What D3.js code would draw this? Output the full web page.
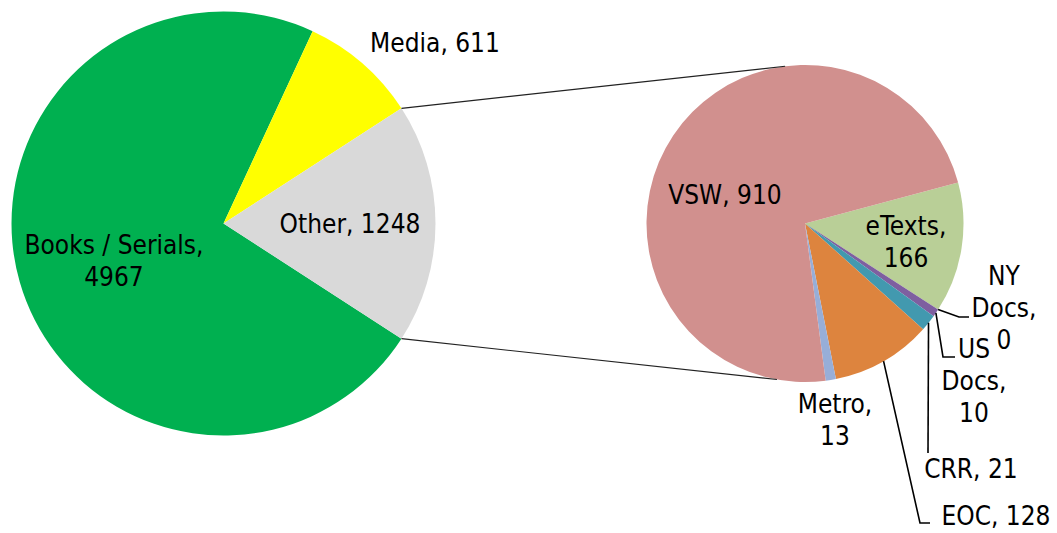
<!DOCTYPE html>
<html>
<head>
<meta charset="utf-8">
<script src="https://cdn.jsdelivr.net/npm/d3@7"></script>
<style>
body { margin: 0; background: #fff; }
text { font-family: "DejaVu Sans Condensed", "DejaVu Sans", sans-serif; font-size: 26px; fill: #000; }
</style>
</head>
<body>
<svg width="1057" height="533"></svg>
<script>
// main pie data
var mainCats = ["Books / Serials", "Media", "Other"];
var mainVals = [4967, 611, 1248];
var mainColors = ["#00B050", "#FFFF00", "#D9D9D9"];

// breakdown of "Other"
var subCats = ["eTexts", "NY Docs", "US Docs", "CRR", "EOC", "Metro", "VSW"];
var subVals = [166, 0, 10, 21, 128, 13, 910];
var subColors = ["#B9CF97", "#7E5FA0", "#7E5FA0", "#4299AF", "#DD843E", "#97AED8", "#D1908E"];

var svg = d3.select("svg");
var toRad = Math.PI / 180;

var c1 = {x: 223.5, y: 223.5, r: 212};
var c2 = {x: 805, y: 223.5, r: 158.5};

function pt(c, a, r) {
  return [c.x + r * Math.sin(a), c.y - r * Math.cos(a)];
}

// left pie: "Other" centred on the right-hand side
var total = d3.sum(mainVals);
var s1 = Math.PI / 2 + Math.PI * mainVals[2] / total;
var pie1 = d3.pie().sort(null).startAngle(s1).endAngle(s1 + 2 * Math.PI);
var arcs1 = pie1(mainVals);
var arc1 = d3.arc().innerRadius(0).outerRadius(c1.r);

svg.append("g")
  .attr("transform", "translate(" + c1.x + "," + c1.y + ")")
  .selectAll("path")
  .data(arcs1)
  .enter().append("path")
    .attr("d", arc1)
    .attr("fill", function(d, i) { return mainColors[i]; });

// right pie
var s2 = 75 * toRad;
var pie2 = d3.pie().sort(null).startAngle(s2).endAngle(s2 + 2 * Math.PI);
var arcs2 = pie2(subVals);
var arc2 = d3.arc().innerRadius(0).outerRadius(c2.r);

svg.append("g")
  .attr("transform", "translate(" + c2.x + "," + c2.y + ")")
  .selectAll("path")
  .data(arcs2)
  .enter().append("path")
    .attr("d", arc2)
    .attr("fill", function(d, i) { return subColors[i]; });

// connector lines between the pies
var other = arcs1[2];
var conn = [
  [pt(c1, other.startAngle, c1.r), pt(c2, -7.2 * toRad, c2.r)],
  [pt(c1, other.endAngle, c1.r), pt(c2, 190.2 * toRad, c2.r)]
];
svg.selectAll(".conn")
  .data(conn)
  .enter().append("line")
    .attr("class", "conn")
    .attr("x1", function(d) { return d[0][0]; })
    .attr("y1", function(d) { return d[0][1]; })
    .attr("x2", function(d) { return d[1][0]; })
    .attr("y2", function(d) { return d[1][1]; })
    .attr("stroke", "#222")
    .attr("stroke-width", 1.2);

// leader lines for the small slices (elbow points)
var leaders = [
  {i: 1, pts: [[959, 317], [969, 317]]},
  {i: 2, pts: [[943, 357], [955, 357]]},
  {i: 3, pts: [[928, 453]]},
  {i: 4, pts: [[920, 523], [930, 523]]}
];
svg.selectAll(".leader")
  .data(leaders)
  .enter().append("path")
    .attr("class", "leader")
    .attr("fill", "none")
    .attr("stroke", "#000")
    .attr("stroke-width", 1.6)
    .attr("d", function(d) {
      var a = arcs2[d.i];
      var p0 = pt(c2, (a.startAngle + a.endAngle) / 2, c2.r);
      return d3.line()([p0].concat(d.pts));
    });

// label placement: x centre, first baseline, how to wrap
var mainLab = [
  {x: 114, y: 254, wrap: "value"},
  {x: 435, y: 52, wrap: "none"},
  {x: 350, y: 233, wrap: "none"}
];
var subLab = [
  {x: 906, y: 235, wrap: "value"},
  {x: 1004, y: 285, wrap: "words"},
  {x: 974, y: 358, wrap: "words"},
  {x: 971, y: 478, wrap: "none"},
  {x: 996, y: 525, wrap: "none"},
  {x: 835, y: 413, wrap: "value"},
  {x: 725, y: 204, wrap: "none"}
];

function lines(name, val, wrap) {
  if (wrap == "none") return [name + ", " + val];
  if (wrap == "value") return [name + ",", "" + val];
  return (name + ", " + val).split(" ");
}

function addLabels(cats, vals, lab) {
  cats.forEach(function(c, i) {
    var l = lab[i];
    var t = svg.append("text").attr("text-anchor", "middle");
    lines(c, vals[i], l.wrap).forEach(function(s, j) {
      t.append("tspan")
        .attr("x", l.x)
        .attr("y", l.y + j * 32)
        .text(s);
    });
  });
}
addLabels(mainCats, mainVals, mainLab);
addLabels(subCats, subVals, subLab);
</script>
</body>
</html>
